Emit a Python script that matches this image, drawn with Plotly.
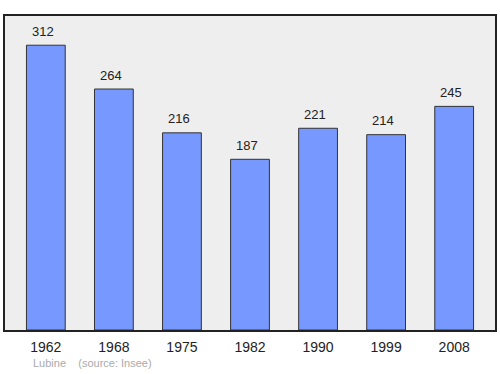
import plotly.graph_objects as go

years = ["1962", "1968", "1975", "1982", "1990", "1999", "2008"]
population = [312, 264, 216, 187, 221, 214, 245]

fig = go.Figure()
fig.add_trace(go.Bar(
    x=list(range(len(years))), y=population, width=0.57,
    marker=dict(color="#7799ff", line=dict(color="#333333", width=1)),
))
for i, v in enumerate(population):
    fig.add_annotation(x=i, y=v, text=str(v), showarrow=False, yshift=14, xshift=-3,
                       font=dict(family="Liberation Sans, Arial", size=13, color="#222222"))

fig.add_annotation(xref="paper", yref="paper", x=0.053, y=-0.081, xanchor="left", yanchor="top",
                   text="Lubine&nbsp;&nbsp;&nbsp;&nbsp;(source: Insee)", showarrow=False,
                   font=dict(family="Liberation Sans, Arial", size=11, color="#aaaaaa"))

fig.update_layout(
    width=500, height=374,
    margin=dict(l=5, r=3, t=16, b=44),
    paper_bgcolor="white", plot_bgcolor="#eeeeee",
    showlegend=False,
    xaxis=dict(range=[-0.6, 6.6], showline=True, linecolor="#222222", linewidth=1.5, mirror=True,
               tickmode="array", tickvals=list(range(len(years))), ticktext=years,
               ticks="outside", ticklen=3, tickcolor="rgba(0,0,0,0)", showgrid=False,
               tickfont=dict(family="Liberation Sans, Arial", size=14, color="#222222")),
    yaxis=dict(range=[0, 344], showline=True, linecolor="#222222", linewidth=1.5, mirror=True,
               showgrid=False, showticklabels=False, ticks="", zeroline=False),
)
fig.write_html("out.html")
